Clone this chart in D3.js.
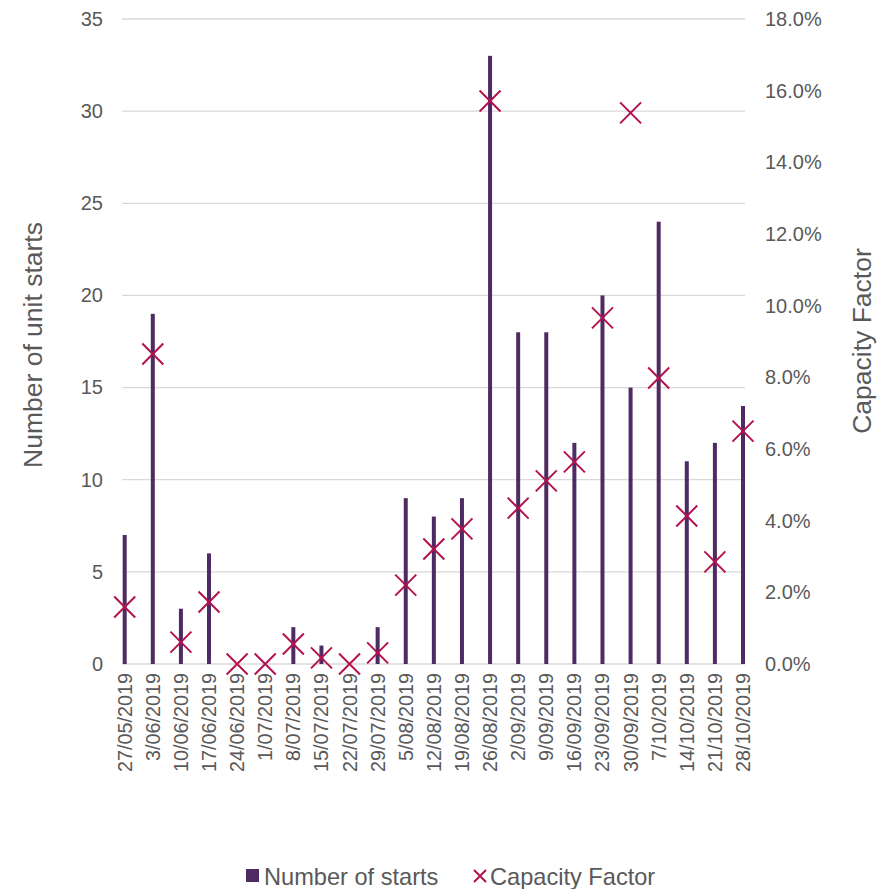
<!DOCTYPE html>
<html>
<head>
<meta charset="utf-8">
<script src="https://cdn.jsdelivr.net/npm/d3@7"></script>
<style>
  html, body { margin: 0; padding: 0; background: #fff; }
  svg { display: block; font-family: Arial, "Liberation Sans", sans-serif; }
</style>
</head>
<body>
<svg id="chart" width="890" height="889"></svg>
<script>
// Weekly unit starts and capacity factor
const weeks = ["27/05/2019","3/06/2019","10/06/2019","17/06/2019","24/06/2019","1/07/2019",
  "8/07/2019","15/07/2019","22/07/2019","29/07/2019","5/08/2019","12/08/2019","19/08/2019",
  "26/08/2019","2/09/2019","9/09/2019","16/09/2019","23/09/2019","30/09/2019","7/10/2019",
  "14/10/2019","21/10/2019","28/10/2019"];
const starts = [7, 19, 3, 6, 0, 0, 2, 1, 0, 2, 9, 8, 9, 33, 18, 18, 12, 20, 15, 24, 11, 12, 14];
const capacityFactor = [0.0159, 0.0865, 0.0061, 0.0173, 0.0, 0.0, 0.0056, 0.0017, 0.0, 0.0031,
  0.0220, 0.0321, 0.0377, 0.1571, 0.0435, 0.0511, 0.0564, 0.0966, 0.1538, 0.0798,
  0.0413, 0.0285, 0.0650];
const leftTicks = [0, 5, 10, 15, 20, 25, 30, 35];
const rightTicks = [0, 0.02, 0.04, 0.06, 0.08, 0.10, 0.12, 0.14, 0.16, 0.18];

const barColor = "#4f2b64";
const crossColor = "#b3124f";
const textColor = "#595959";
const gridColor = "#d9d9d9";

const svg = d3.select("#chart");
const plot = { left: 122, right: 745, top: 19, bottom: 664 };

const x = d3.scalePoint().domain(weeks).range([124.7, 743]);
const yL = d3.scaleLinear().domain([0, 35]).range([plot.bottom, plot.top]);
const yR = d3.scaleLinear().domain([0, 0.18]).range([plot.bottom, plot.top]);

// gridlines
svg.append("g").selectAll("line").data(leftTicks).join("line")
  .attr("x1", plot.left).attr("x2", plot.right)
  .attr("y1", d => yL(d)).attr("y2", d => yL(d))
  .attr("stroke", gridColor).attr("stroke-width", 1.3);

// left axis labels
const leftAxis = svg.append("g").attr("transform", `translate(${plot.left - 19},0)`)
  .call(d3.axisLeft(yL).tickValues(leftTicks).tickSize(0).tickPadding(0));
leftAxis.select(".domain").remove();
leftAxis.selectAll("text").attr("fill", textColor).attr("font-size", 20)
  .attr("font-family", "Arial, 'Liberation Sans', sans-serif");

// right axis labels
const rightAxis = svg.append("g").attr("transform", `translate(${plot.right + 20},0)`)
  .call(d3.axisRight(yR).tickValues(rightTicks).tickSize(0).tickPadding(0)
    .tickFormat(d3.format(".1%")));
rightAxis.select(".domain").remove();
rightAxis.selectAll("text").attr("fill", textColor).attr("font-size", 20)
  .attr("font-family", "Arial, 'Liberation Sans', sans-serif");

// bars
svg.append("g").selectAll("rect").data(weeks).join("rect")
  .attr("x", d => x(d) - 2)
  .attr("width", 4)
  .attr("y", (d, i) => yL(starts[i]))
  .attr("height", (d, i) => yL(0) - yL(starts[i]))
  .attr("fill", barColor);

// date labels
svg.append("g").selectAll("text").data(weeks).join("text")
  .attr("transform", d => `translate(${x(d) + 7},${plot.bottom + 9}) rotate(-90)`)
  .attr("text-anchor", "end")
  .attr("font-size", 19.8)
  .attr("fill", textColor)
  .text(d => d);

// capacity factor crosses
const cs = 10.5;
const crosses = svg.append("g").selectAll("g").data(weeks).join("g")
  .attr("transform", (d, i) => `translate(${x(d)},${yR(capacityFactor[i])})`);
crosses.append("path")
  .attr("d", `M${-cs},${-cs}L${cs},${cs}M${-cs},${cs}L${cs},${-cs}`)
  .attr("stroke", crossColor).attr("stroke-width", 2).attr("fill", "none");

// axis titles
svg.append("text")
  .attr("transform", `translate(42,345) rotate(-90)`)
  .attr("text-anchor", "middle").attr("font-size", 26.5).attr("fill", textColor)
  .text("Number of unit starts");
svg.append("text")
  .attr("transform", `translate(871,341) rotate(-90)`)
  .attr("text-anchor", "middle").attr("font-size", 26.5).attr("fill", textColor)
  .text("Capacity Factor");

// legend
const lg = svg.append("g");
lg.append("rect").attr("x", 246).attr("y", 869).attr("width", 13).attr("height", 13).attr("fill", barColor);
lg.append("text").attr("x", 264).attr("y", 885).attr("font-size", 23.6).attr("fill", textColor)
  .text("Number of starts");
const ls = 6;
lg.append("path")
  .attr("transform", "translate(480,876)")
  .attr("d", `M${-ls},${-ls}L${ls},${ls}M${-ls},${ls}L${ls},${-ls}`)
  .attr("stroke", crossColor).attr("stroke-width", 2).attr("fill", "none");
lg.append("text").attr("x", 490).attr("y", 885).attr("font-size", 23.6).attr("fill", textColor)
  .text("Capacity Factor");
</script>
</body>
</html>
